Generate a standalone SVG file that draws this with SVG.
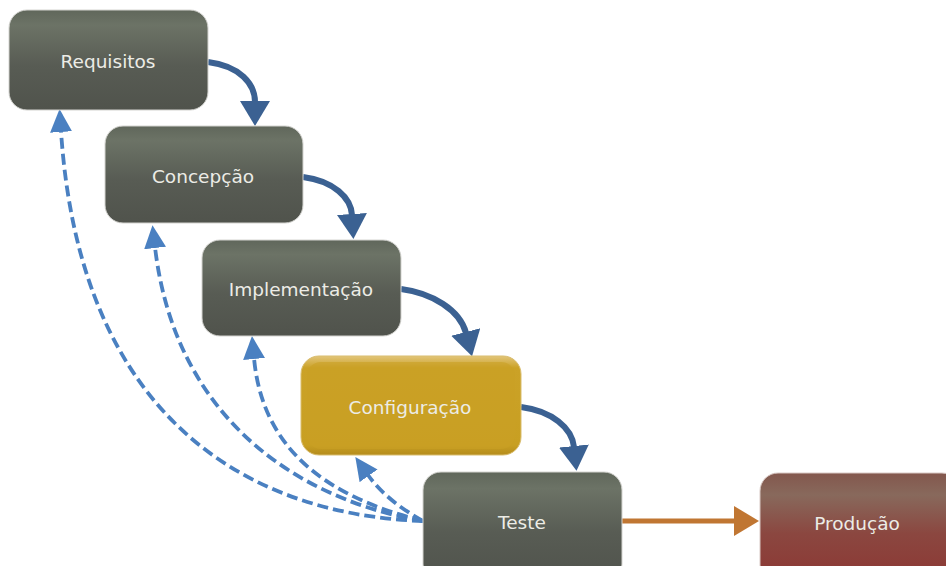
<svg xmlns="http://www.w3.org/2000/svg" width="946" height="566" viewBox="0 0 946 566">
<style>
.lbl{font-family:"DejaVu Sans",Verdana,sans-serif;font-size:18.5px;fill:#ecece6;text-anchor:middle;dominant-baseline:central}
.gray{fill:url(#gGray);stroke:#d4d4d0;stroke-width:1}
.solid{fill:none;stroke:#3b6192;stroke-width:6}
.dash{fill:none;stroke:#4a80c1;stroke-width:3.8;stroke-dasharray:11 5}
</style>
<defs>
<linearGradient id="gGray" x1="0" y1="0" x2="0" y2="1">
<stop offset="0" stop-color="#60675b"/>
<stop offset="0.15" stop-color="#6c7366"/>
<stop offset="0.55" stop-color="#585c54"/>
<stop offset="1" stop-color="#50534c"/>
</linearGradient>
<linearGradient id="gRed" x1="0" y1="0" x2="0" y2="1">
<stop offset="0" stop-color="#83574d"/>
<stop offset="0.2" stop-color="#88695c"/>
<stop offset="0.55" stop-color="#8b4740"/>
<stop offset="1" stop-color="#8c3733"/>
</linearGradient>
<linearGradient id="gYel" x1="0" y1="0" x2="0" y2="1">
<stop offset="0" stop-color="#e2c57a"/>
<stop offset="0.12" stop-color="#cba227"/>
<stop offset="0.9" stop-color="#c89f22"/>
<stop offset="1" stop-color="#b58c1c"/>
</linearGradient>
<marker id="mSolid" markerUnits="userSpaceOnUse" markerWidth="26" markerHeight="30" refX="1" refY="15" orient="auto">
<path d="M0,0 L25,15 L0,30 z" fill="#3b6192"/>
</marker>
<marker id="mDash" markerUnits="userSpaceOnUse" markerWidth="24" markerHeight="22" refX="1" refY="11" orient="auto">
<path d="M0,0 L23,11 L0,22 z" fill="#4a80c1"/>
</marker>
<marker id="mOr" markerUnits="userSpaceOnUse" markerWidth="26" markerHeight="30" refX="1" refY="15" orient="auto">
<path d="M0,0 L25,15 L0,30 z" fill="#c07632"/>
</marker>
</defs>

<g id="connectors">
<path class="solid" marker-end="url(#mSolid)" d="M208,62 C240,66 255,84 255,102"/>
<path class="solid" marker-end="url(#mSolid)" d="M303,177 C334,181 351,198 352,215"/>
<path class="solid" marker-end="url(#mSolid)" d="M401,289 C432,293 460,310 466,333"/>
<path class="solid" marker-end="url(#mSolid)" d="M521,407 C552,411 572,428 574,447"/>
<path fill="none" stroke="#c07632" stroke-width="5" marker-end="url(#mOr)" d="M622,521 L735,521"/>
<path class="dash" marker-end="url(#mDash)" d="M423,521 C250,515 80,420 61,131"/>
<path class="dash" marker-end="url(#mDash)" d="M423,521 C300,500 175,420 155,247"/>
<path class="dash" marker-end="url(#mDash)" d="M423,521 C320,495 262,445 254,358"/>
<path class="dash" marker-end="url(#mDash)" d="M423,521 C398,507 380,492 368,475"/>
</g>

<g id="requisitos">
<rect class="gray" x="9" y="10" width="199" height="100" rx="18"/>
<text class="lbl" x="108" y="61">Requisitos</text>
</g>
<g id="concepcao">
<rect class="gray" x="105" y="126" width="198" height="97" rx="18"/>
<text class="lbl" x="203" y="176">Concepção</text>
</g>
<g id="implementacao">
<rect class="gray" x="202" y="240" width="199" height="96" rx="18"/>
<text class="lbl" x="301" y="289">Implementação</text>
</g>
<g id="configuracao">
<rect x="301" y="356" width="220" height="99" rx="18" fill="url(#gYel)" stroke="#d9bd6f" stroke-width="1"/>
<rect x="307" y="362" width="208" height="87" rx="14" fill="#c9a024" opacity="0.6"/>
<text class="lbl" x="410" y="407">Configuração</text>
</g>
<g id="teste">
<rect class="gray" x="423" y="472" width="199" height="110" rx="18"/>
<text class="lbl" x="522" y="522">Teste</text>
</g>
<g id="producao">
<rect x="760" y="473" width="200" height="110" rx="18" fill="url(#gRed)" stroke="#d8c8c4" stroke-width="1"/>
<text class="lbl" x="857" y="523">Produção</text>
</g>
</svg>
